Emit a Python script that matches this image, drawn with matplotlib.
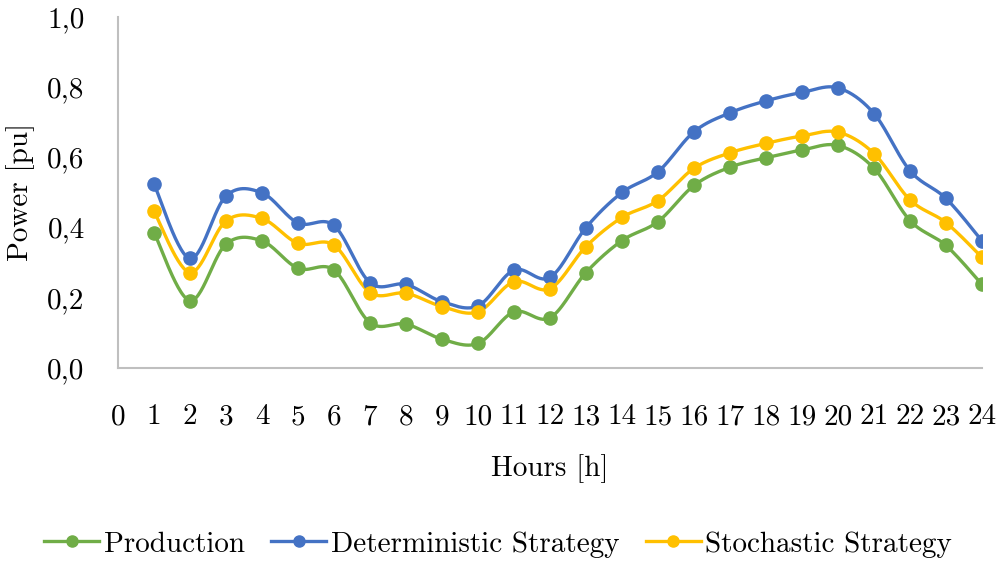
import numpy as np
import matplotlib
matplotlib.use("Agg")
import matplotlib.pyplot as plt
from matplotlib.lines import Line2D

plt.rcParams['font.family'] = ['cmr10', 'DejaVu Serif']
plt.rcParams['axes.formatter.use_mathtext'] = True

hours = list(range(1, 25))
production = [0.386, 0.192, 0.353, 0.362, 0.284, 0.279, 0.129, 0.125, 0.082, 0.070,
              0.160, 0.143, 0.272, 0.363, 0.417, 0.520, 0.572, 0.599, 0.621, 0.634,
              0.569, 0.420, 0.349, 0.238]
deterministic = [0.524, 0.312, 0.490, 0.499, 0.413, 0.406, 0.243, 0.238, 0.189, 0.177,
                 0.279, 0.258, 0.400, 0.500, 0.559, 0.673, 0.727, 0.761, 0.785, 0.798,
                 0.725, 0.562, 0.483, 0.362]
stochastic = [0.446, 0.272, 0.419, 0.426, 0.355, 0.350, 0.215, 0.213, 0.175, 0.160,
              0.246, 0.226, 0.346, 0.429, 0.477, 0.569, 0.613, 0.640, 0.661, 0.672,
              0.611, 0.479, 0.414, 0.315]

x_ticks = list(range(0, 25))
y_ticks = [0.0, 0.2, 0.4, 0.6, 0.8, 1.0]
y_tick_labels = ['0,0', '0,2', '0,4', '0,6', '0,8', '1,0']

series = [
    ('Production', production, '#70AD47'),
    ('Deterministic Strategy', deterministic, '#4472C4'),
    ('Stochastic Strategy', stochastic, '#FFC000'),
]

FS = 21


def smooth_curve(xs, ys, steps=30):
    """Cubic Bezier smoothing through every point (Catmull-Rom style)."""
    p = np.column_stack([xs, ys]).astype(float)
    n = len(p)
    out = []
    for i in range(n - 1):
        p0 = p[i - 1] if i > 0 else p[i]
        p1 = p[i]
        p2 = p[i + 1]
        p3 = p[i + 2] if i + 2 < n else p[i + 1]
        c1 = p1 + (p2 - p0) / 6.0
        c2 = p2 - (p3 - p1) / 6.0
        t = np.linspace(0, 1, steps, endpoint=(i == n - 2))[:, None]
        seg = ((1 - t) ** 3) * p1 + 3 * ((1 - t) ** 2) * t * c1 + 3 * (1 - t) * t ** 2 * c2 + t ** 3 * p2
        out.append(seg)
    out = np.vstack(out)
    return out[:, 0], out[:, 1]


fig = plt.figure(figsize=(10, 5.63), dpi=100)
ax = fig.add_axes([0.118, 0.3464, 0.864, 0.6234])

for name, vals, color in series:
    sx, sy = smooth_curve(hours, vals)
    ax.plot(sx, sy, color=color, lw=2.4, solid_capstyle='round', zorder=2)
    ax.plot(hours, vals, 'o', color=color, ms=9.5, zorder=3)

ax.set_xlim(0, 24)
ax.set_ylim(0, 1.0)
ax.set_xticks(x_ticks)
ax.set_xticklabels([str(v) for v in x_ticks])
ax.set_yticks(y_ticks)
ax.set_yticklabels(y_tick_labels)
ax.tick_params(axis='both', length=0, labelsize=FS, colors='#000000')
ax.tick_params(axis='x', pad=26)
ax.tick_params(axis='y', pad=24)

for side in ('top', 'right'):
    ax.spines[side].set_visible(False)
for side in ('left', 'bottom'):
    ax.spines[side].set_color('#BFBFBF')
    ax.spines[side].set_linewidth(1.5)

ax.set_xlabel('Hours [h]', fontsize=FS, labelpad=17)
ax.set_ylabel('Power [pu]', fontsize=FS, labelpad=9)

handles = [Line2D([0], [0], color=c, lw=2.4, marker='o', ms=8) for _, _, c in series]
fig.legend(handles, [n for n, _, _ in series], loc='center', bbox_to_anchor=(0.498, 0.033),
           ncol=3, frameon=False, fontsize=FS, handlelength=1.9, handletextpad=0.15,
           columnspacing=0.9, borderpad=0, borderaxespad=0)

fig.savefig('out.png', dpi=100)
